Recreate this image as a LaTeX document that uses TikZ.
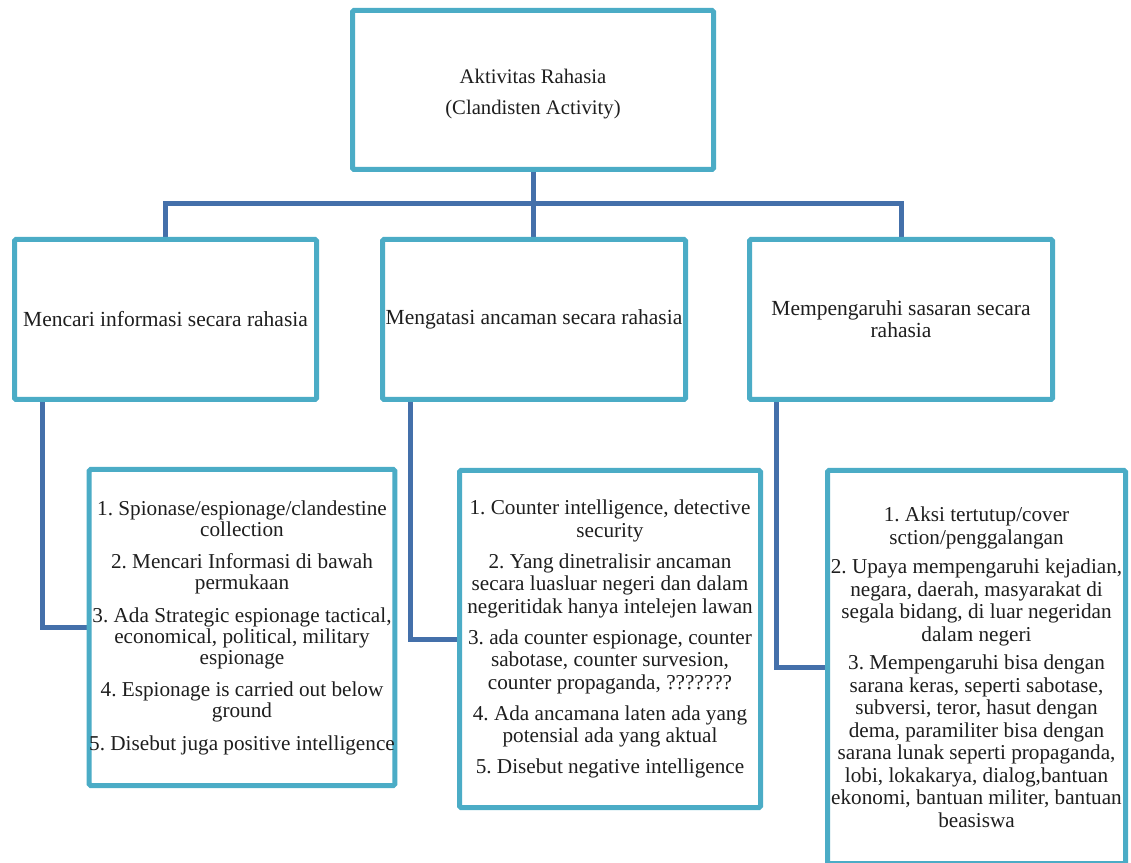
\documentclass[tikz,border=0pt]{standalone}
\usepackage{fontspec}
\setmainfont{Liberation Serif}
\usetikzlibrary{calc,backgrounds}
\definecolor{boxline}{HTML}{4BACC6}
\definecolor{linkline}{HTML}{4470AA}
\definecolor{ink}{HTML}{1E1E1E}
\frenchspacing
\begin{document}
\begin{tikzpicture}[x=1pt,y=1pt,
  box/.style={draw=boxline, line width=5pt, rounded corners=1.5pt, fill=white,
    text=ink, align=center, inner sep=0pt},
  headtext/.style={font=\fontsize{20.7}{30}\selectfont},
  midtext/.style={font=\fontsize{21.5}{22}\selectfont},
  link/.style={draw=linkline, line width=5pt}]
\useasboundingbox (0,0) rectangle (1131,862);
\clip (0,0) rectangle (1131,862);

% root
\node[box, headtext, minimum width=361pt, minimum height=159pt] (top) at (533,772)
  {\raisebox{-25pt}[0pt][0pt]{\shortstack{Aktivitas Rahasia\\[14pt](Clandisten Activity)}}};

% second level
\node[box, midtext, minimum width=302pt, minimum height=160pt] (m1) at (165.5,542.5)
  {Mencari informasi secara rahasia};
\node[box, midtext, minimum width=303pt, minimum height=160pt] (m2) at (534,542.5)
  {Mengatasi ancaman secara rahasia};
\node[box, midtext, minimum width=303pt, minimum height=160pt] (m3) at (901,542.5)
  {Mempengaruhi sasaran secara\\rahasia};

% detail boxes
\node[box, font=\fontsize{21.2}{21}\selectfont, minimum width=303pt, minimum height=316pt] (b1) at (242,234.5)
  {1. Spionase/espionage/clandestine\\collection\\[11.5pt]
   2. Mencari Informasi di bawah\\permukaan\\[11.5pt]
   3. Ada Strategic espionage tactical,\\economical, political, military\\espionage\\[11.5pt]
   4. Espionage is carried out below\\ground\\[11.5pt]
   5. Disebut juga positive intelligence};
\node[box, font=\fontsize{21.2}{22.5}\selectfont, minimum width=301pt, minimum height=337pt] (b2) at (610,223)
  {1. Counter intelligence, detective\\security\\[8.5pt]
   2. Yang dinetralisir ancaman\\secara luasluar negeri dan dalam\\negeritidak hanya intelejen lawan\\[8.5pt]
   3. ada counter espionage,  counter\\sabotase, counter survesion,\\counter propaganda, ???????\\[8.5pt]
   4. Ada ancamana laten ada yang\\potensial ada yang aktual\\[8.5pt]
   5. Disebut negative intelligence};
\node[box, font=\fontsize{21.2}{22.5}\selectfont, minimum width=298pt, minimum height=393pt] (b3) at (976.5,195)
  {1. Aksi tertutup/cover\\sction/penggalangan\\[7pt]
   2. Upaya mempengaruhi kejadian,\\negara, daerah, masyarakat di\\segala bidang, di luar negeridan\\dalam negeri\\[6pt]
   3. Mempengaruhi bisa dengan\\sarana keras, seperti sabotase,\\subversi, teror, hasut dengan\\dema, paramiliter bisa dengan\\sarana lunak seperti propaganda,\\lobi, lokakarya, dialog,bantuan\\ekonomi, bantuan militer, bantuan\\beasiswa};

% connectors
\coordinate (bus) at (533,658);
\begin{scope}[on background layer]
\draw[link] (top.south) -- (bus);
\draw[link] (m1.north) |- (bus) -| (m3.north);
\draw[link] (bus) -- (bus |- m2.north);
\draw[link] ($(m1.south west)+(30.5,0)$) |- (b1.west);
\draw[link] ($(m2.south west)+(30,0)$) |- (b2.west);
\draw[link] ($(m3.south west)+(29.5,0)$) |- (b3.west);
\end{scope}
\end{tikzpicture}
\end{document}
